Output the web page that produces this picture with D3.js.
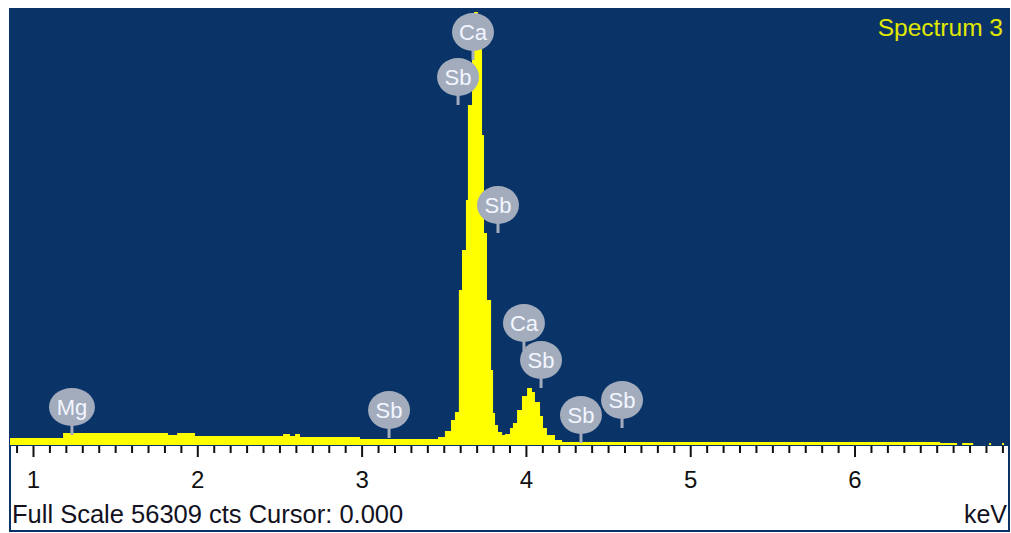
<!DOCTYPE html>
<html>
<head>
<meta charset="utf-8">
<script src="https://cdn.jsdelivr.net/npm/d3@7"></script>
<style>
  body { margin: 0; background: #ffffff; }
  svg { display: block; }
</style>
</head>
<body>
<svg width="1011" height="533"></svg>
<script>
// spectrum bins: start energy (keV) and counts, each bin ends at the next start
var binKeV = [
  0.857, 1.180, 1.819, 1.874, 1.983, 2.519, 2.561, 2.592, 2.622, 2.987,
  3.462, 3.504, 3.541, 3.565, 3.589, 3.608, 3.632, 3.644, 3.669, 3.681,
  3.705, 3.730, 3.742, 3.760, 3.785, 3.797, 3.809, 3.827, 3.852, 3.870,
  3.900, 3.918, 3.943, 3.973, 4.004, 4.034, 4.052, 4.083, 4.101, 4.125,
  4.174, 4.217, 6.518, 6.621, 6.652, 6.719, 6.816, 6.828, 6.895, 6.907,
];
var binCounts = [
  904, 1550, 1292, 1550, 1162, 1421, 1162, 1421, 1033, 775,
  1033, 1808, 3229, 4262, 20018, 25184, 31642, 43911, 51660, 55922,
  51273, 40037, 27380, 18727, 9686, 4133, 2583, 1679, 1292, 1421,
  2196, 2841, 4520, 6328, 7362, 6845, 5553, 3745, 2196, 1292,
  646, 387, 258, 0, 258, 0, 258, 0, 258, 0,
];

// peak labels
var labelNames = ["Ca", "Sb", "Sb", "Ca", "Sb", "Sb", "Sb", "Mg", "Sb"];
var labelKeV = [3.675, 3.584, 3.827, 3.985, 4.089, 4.332, 4.582, 1.234, 3.164];
var labelCounts = [49723, 43911, 27380, 12140, 7362, 258, 2196, 1292, 904];

var tickLabels = [1, 2, 3, 4, 5, 6];
var fullScale = 56309;
var keVStart = 0.857,
  keVEnd = 6.931;

var svg = d3.select("svg");

var xScale = d3.scaleLinear().domain([keVStart, keVEnd]).range([10, 1008]),
  yScale = d3.scaleLinear().domain([0, fullScale]).range([445, 9]);

// frame and bottom panel
svg
  .append("rect")
  .attr("x", 10)
  .attr("y", 9)
  .attr("width", 999)
  .attr("height", 522)
  .style("fill", "#ffffff")
  .style("stroke", "#0a3467")
  .style("stroke-width", 2);

svg
  .append("rect")
  .attr("x", 10)
  .attr("y", 9)
  .attr("width", 999)
  .attr("height", 437)
  .style("fill", "#0a3467");

// spectrum
var points = [];
for (var i = 0; i < binKeV.length; i++) {
  points.push([binKeV[i], binCounts[i]]);
}
points.push([keVEnd, binCounts[binCounts.length - 1]]);

var area = d3
  .area()
  .curve(d3.curveStepAfter)
  .x(function (d) {
    return xScale(d[0]);
  })
  .y0(yScale(0))
  .y1(function (d) {
    return yScale(d[1]);
  });

svg.append("path").datum(points).attr("d", area).style("fill", "#ffff00");

// ticks
var minorTicks = d3.range(9, 70).map(function (d) {
  return d / 10;
});
svg
  .append("g")
  .selectAll("line")
  .data(minorTicks)
  .enter()
  .append("line")
  .attr("x1", function (d) {
    return xScale(d);
  })
  .attr("x2", function (d) {
    return xScale(d);
  })
  .attr("y1", 446)
  .attr("y2", function (d) {
    return Math.abs(d - Math.round(d)) < 0.001 ? 457 : 453;
  })
  .style("stroke", "#111111")
  .style("stroke-width", 2);

svg
  .append("g")
  .selectAll("text")
  .data(tickLabels)
  .enter()
  .append("text")
  .attr("x", function (d) {
    return xScale(d);
  })
  .attr("y", 488)
  .attr("text-anchor", "middle")
  .style("font-family", "Liberation Sans, Arial, sans-serif")
  .style("font-size", "24px")
  .style("fill", "#111111")
  .text(function (d) {
    return d;
  });

// bottom texts
svg
  .append("text")
  .attr("x", 12)
  .attr("y", 523)
  .style("font-family", "Liberation Sans, Arial, sans-serif")
  .style("font-size", "25.5px")
  .style("fill", "#111122")
  .text("Full Scale " + fullScale + " cts Cursor: 0.000");

svg
  .append("text")
  .attr("x", 1007)
  .attr("y", 523)
  .attr("text-anchor", "end")
  .style("font-family", "Liberation Sans, Arial, sans-serif")
  .style("font-size", "25px")
  .style("fill", "#111122")
  .text("keV");

svg
  .append("text")
  .attr("x", 1003)
  .attr("y", 36)
  .attr("text-anchor", "end")
  .style("font-family", "Liberation Sans, Arial, sans-serif")
  .style("font-size", "24.5px")
  .style("fill", "#e2e800")
  .text("Spectrum 3");

// peak markers
var markers = svg
  .append("g")
  .selectAll("g")
  .data(labelNames)
  .enter()
  .append("g")
  .attr("transform", function (d, i) {
    return "translate(" + xScale(labelKeV[i]) + "," + yScale(labelCounts[i]) + ")";
  });

markers
  .append("rect")
  .attr("x", -1.5)
  .attr("y", -12)
  .attr("width", 3)
  .attr("height", 12)
  .style("fill", "#a3acbd");

markers
  .append("ellipse")
  .attr("cx", 0)
  .attr("cy", -28)
  .attr("rx", function (d) {
    return d == "Mg" ? 23 : 21;
  })
  .attr("ry", 19)
  .style("fill", "#a3acbd");

markers
  .append("text")
  .attr("x", 0)
  .attr("y", -20)
  .attr("text-anchor", "middle")
  .style("font-family", "Liberation Sans, Arial, sans-serif")
  .style("font-size", "22px")
  .style("fill", "#f2f6ff")
  .text(function (d) {
    return d;
  });
</script>
</body>
</html>
